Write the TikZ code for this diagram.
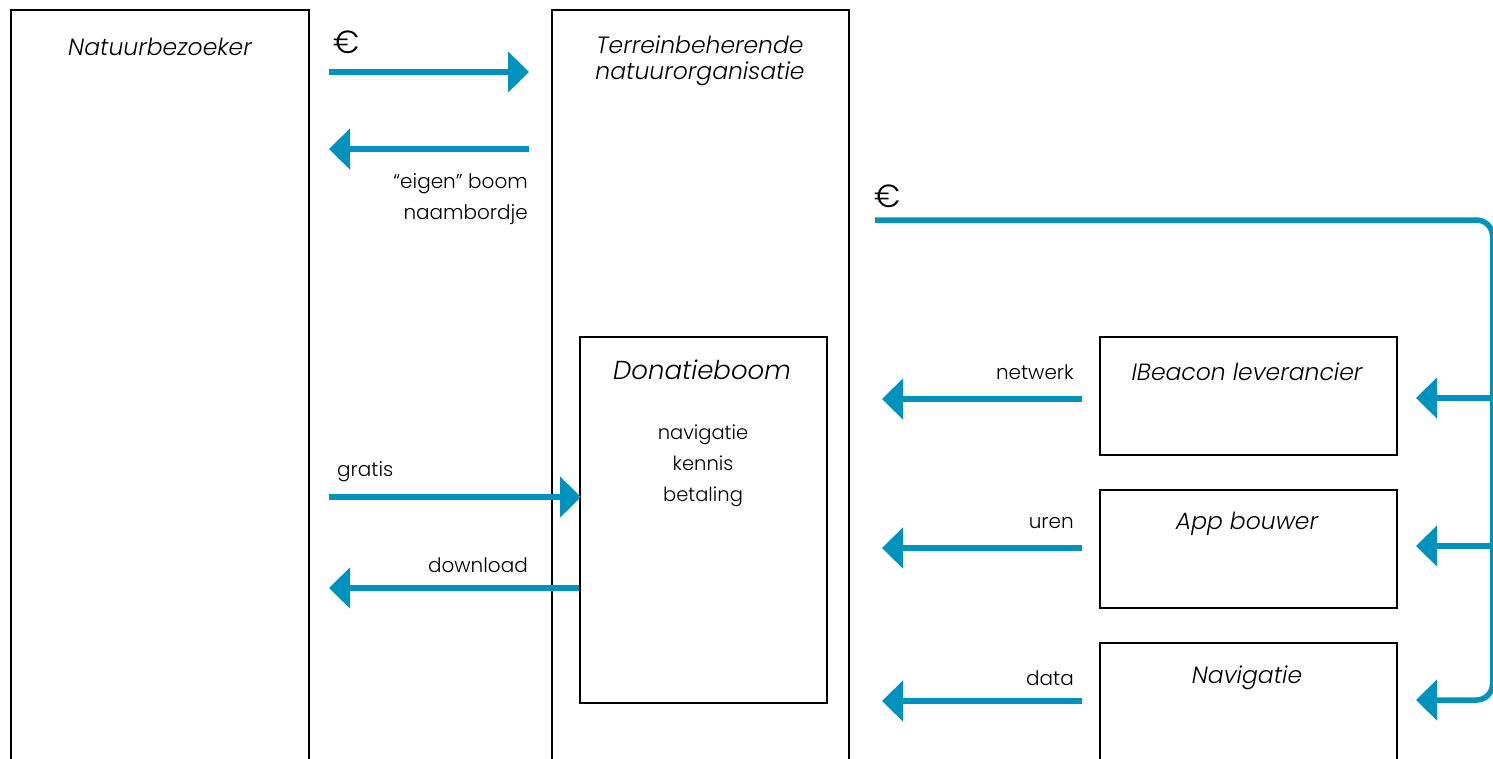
\documentclass[tikz,border=0pt]{standalone}
\usepackage{fontspec}
\setmainfont{Poppins}[UprightFont=* Light, ItalicFont=* Light Italic]
\usetikzlibrary{arrows.meta}
\definecolor{flowblue}{RGB}{0,146,190}
\tikzset{
  box/.style={draw=black, line width=1.6pt, anchor=north west, inner sep=0pt},
  flow/.style={draw=flowblue, line width=5.5pt, -{Triangle[length=21pt,width=40pt]}},
  title/.style={font=\fontsize{23.5}{27}\selectfont\itshape, align=center, inner sep=0pt},
  lbl/.style={font=\fontsize{20}{31}\selectfont, inner sep=0pt},
  euro/.style={font=\fontsize{32}{32}\selectfont, inner sep=0pt}
}
\begin{document}
\begin{tikzpicture}[x=1pt,y=-1pt]
\useasboundingbox (0,0) rectangle (1493,758);
\clip (0,0) rectangle (1493,758);
\fill[white] (0,0) rectangle (1493,758);
% main boxes
\node[box, minimum width=298pt, minimum height=800pt] (nb) at (10,9) {};
\node[box, minimum width=297pt, minimum height=800pt] (tn) at (551,9) {};
\node[box, minimum width=247pt, minimum height=366pt] (don) at (579,336) {};
\node[box, minimum width=297pt, minimum height=118pt] (ib) at (1099,336) {};
\node[box, minimum width=297pt, minimum height=118pt] (ab) at (1099,489) {};
\node[box, minimum width=297pt, minimum height=200pt] (nav) at (1099,642) {};
% titles
\node[title] (tnb) at (160,47) {Natuurbezoeker};
\node[title] (ttn) at (700,61) {Terreinbeherende\\[-1pt]natuurorganisatie};
\node[title, font=\fontsize{26}{30}\selectfont\itshape] (tdon) at (702,370) {Donatieboom};
\node[lbl, align=center, font=\fontsize{19.5}{31}\selectfont] (tdl) at (703,466) {navigatie\\kennis\\betaling};
\node[title] (tib) at (1247,372) {IBeacon leverancier};
\node[title] (tab) at (1247,524) {App bouwer};
\node[title] (tnav) at (1247,678) {Navigatie};
% left flows
\coordinate (e1s) at (329,72);  \coordinate (e1e) at (529,72);
\draw[flow] (e1s) -- (e1e);
\node[euro] (eur1) at (347,42) {€};
\coordinate (b1s) at (529,149); \coordinate (b1e) at (329,149);
\draw[flow] (b1s) -- (b1e);
\node[lbl, anchor=east] (lb1) at (528,184) {“eigen” boom};
\node[lbl, anchor=east] (lb2) at (528,215) {naambordje};
\coordinate (gs) at (329,497);
\draw[flow] (gs) -- ([xshift=2pt]gs -| don.west);
\node[lbl, anchor=west] (lg) at (337,472) {gratis};
\coordinate (ds) at (579,588); \coordinate (de) at (329,588);
\draw[flow] (don.west |- ds) -- (de);
\node[lbl, anchor=east] (ld) at (528,565) {download};
% right side money line
\coordinate (m0) at (875,220);
\coordinate (mc1) at (1492.5,220);
\coordinate (mc2) at (1492.5,700);
\coordinate (m3) at (1416,700);
\draw[flow, rounded corners=16pt] (m0) -- (mc1) -- (mc2) -- (m3);
\node[euro] (eur2) at (888,196) {€};
\coordinate (r1) at (1492.5,398); \coordinate (r1e) at (1416,398);
\coordinate (r2) at (1492.5,546); \coordinate (r2e) at (1416,546);
\draw[flow] (r1) -- (r1e);
\draw[flow] (r2) -- (r2e);
% flows to organisation
\coordinate (n1s) at (1082,399); \coordinate (n1e) at (882,399);
\coordinate (n2s) at (1082,548); \coordinate (n2e) at (882,548);
\coordinate (n3s) at (1082,701); \coordinate (n3e) at (882,701);
\draw[flow] (n1s) -- (n1e);
\draw[flow] (n2s) -- (n2e);
\draw[flow] (n3s) -- (n3e);
\node[lbl, anchor=east] (lnw) at (1074,372) {netwerk};
\node[lbl, anchor=east] (lur) at (1074,523) {uren};
\node[lbl, anchor=east] (lda) at (1074,678) {data};
\end{tikzpicture}
\end{document}
